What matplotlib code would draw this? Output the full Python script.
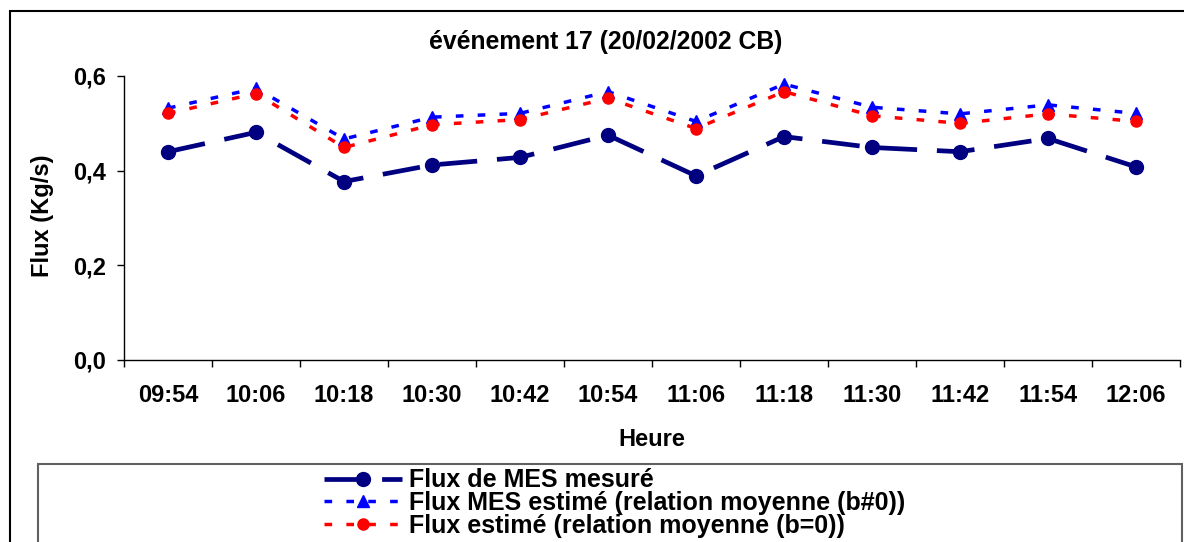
import matplotlib
matplotlib.use("Agg")
import matplotlib.pyplot as plt
from matplotlib.patches import Rectangle

plt.rcParams['font.family'] = ['Liberation Sans', 'DejaVu Sans']
plt.rcParams['font.weight'] = 'bold'

heures = ['09:54', '10:06', '10:18', '10:30', '10:42', '10:54',
          '11:06', '11:18', '11:30', '11:42', '11:54', '12:06']
flux_mesure = [0.440, 0.481, 0.377, 0.412, 0.428, 0.475,
               0.389, 0.472, 0.449, 0.440, 0.468, 0.408]
flux_estime_b = [0.532, 0.574, 0.467, 0.513, 0.521, 0.567,
                 0.504, 0.583, 0.534, 0.520, 0.539, 0.521]
flux_estime_b0 = [0.521, 0.563, 0.449, 0.497, 0.508, 0.553,
                  0.489, 0.567, 0.516, 0.500, 0.520, 0.504]
y_ticks = [0.0, 0.2, 0.4, 0.6]
y_labels = ['0,0', '0,2', '0,4', '0,6']

W, H = 1184, 542
fig = plt.figure(figsize=(W / 100, H / 100), dpi=100)
ax = fig.add_axes([124 / W, 1 - 360 / H, (1180 - 124) / W, (360 - 76) / H])

x = list(range(len(heures)))
ax.plot(x, flux_mesure, color='#000080', lw=3.4, dashes=(8, 4.2),
        marker='o', ms=10, label='Flux de MES mesuré')
ax.plot(x, flux_estime_b, color='#0000FF', lw=2.5, dashes=(2.2, 4.1),
        marker='^', ms=9, label='Flux MES estimé (relation moyenne (b#0))')
ax.plot(x, flux_estime_b0, color='#FF0000', lw=2.5, dashes=(2.2, 4.1),
        marker='o', ms=8, label='Flux estimé (relation moyenne (b=0))')

ax.set_xlim(-0.5, len(heures) - 0.5)
ax.set_ylim(0, 0.6)
ax.set_yticks(y_ticks)
ax.set_yticklabels(y_labels)
ax.set_xticks(x)
ax.set_xticklabels(heures)
ax.set_xticks([i - 0.5 for i in range(len(heures) + 1)], minor=True)
ax.tick_params(axis='x', which='major', length=0, pad=17, labelsize=17)
ax.tick_params(axis='x', which='minor', length=4.8, width=1, direction='out')
ax.tick_params(axis='y', length=4.8, width=1, pad=8, labelsize=17)
for s in ['top', 'right']:
    ax.spines[s].set_visible(False)
for s in ['left', 'bottom']:
    ax.spines[s].set_linewidth(1)

fig.text(606 / W, 1 - 42 / H, 'événement 17 (20/02/2002 CB)', ha='center', va='center',
         fontsize=17.8, fontweight='bold')
fig.text(42 / W, 1 - 216 / H, 'Flux (Kg/s)', ha='center', va='center', rotation=90,
         fontsize=17, fontweight='bold')
fig.text(652 / W, 1 - 440 / H, 'Heure', ha='center', va='center',
         fontsize=17, fontweight='bold')

# cadres (debordent en bas et a droite comme dans l'original)
fig.add_artist(Rectangle((10 / W, -0.5), 1.5, 1 - 11 / H + 0.5, transform=fig.transFigure,
                         fill=False, ec='black', lw=1.5))
fig.add_artist(Rectangle((38 / W, -0.5), (1182 - 38) / W, 1 - 464 / H + 0.5,
                         transform=fig.transFigure, fill=False, ec='#606060', lw=1.5))

handles, labels = ax.get_legend_handles_labels()
fig.legend(handles, labels, loc='center left', bbox_to_anchor=(312 / W, 1 - 503 / H),
           frameon=False, borderpad=0, fontsize=18, labelspacing=-0.05,
           handlelength=3.1, handletextpad=0.3)

fig.savefig('out.png', dpi=100)
